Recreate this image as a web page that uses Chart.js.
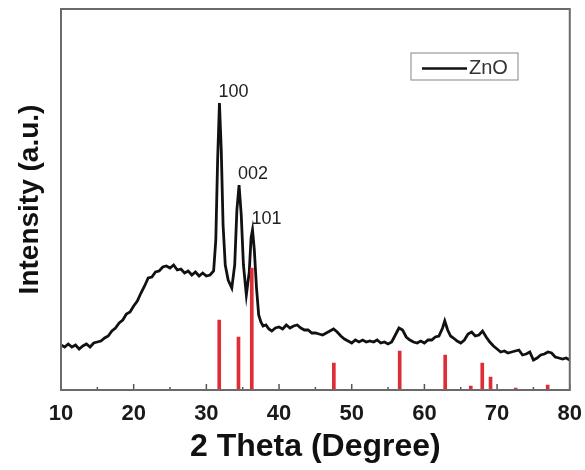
<!DOCTYPE html>
<html><head><meta charset="utf-8">
<script src="https://cdn.jsdelivr.net/npm/chart.js@4"></script>
<style>html,body{margin:0;padding:0;background:#fff}#c{display:block}</style>
</head><body>
<canvas id="c" width="585" height="470"></canvas>
<script>
const theta = [10,10.5,11,11.5,12,12.5,13,13.5,14,14.5,15,15.5,16,16.5,17,17.5,18,18.5,19,19.5,20,20.5,21,21.5,22,22.5,23,23.5,24,24.5,25,25.5,26,26.5,27,27.5,28,28.5,29,29.5,30,30.5,31,31.3,31.55,31.8,32.05,32.3,32.6,33,33.5,33.9,34.2,34.5,34.8,35.1,35.5,35.9,36.15,36.35,36.6,36.9,37.2,37.5,37.8,38.2,38.6,39,39.5,40,40.5,41,41.5,42,42.5,43,43.5,44,44.5,45,45.5,46,46.5,47,47.5,48,48.5,49,49.5,50,50.5,51,51.5,52,52.5,53,53.5,54,54.5,55,55.5,56,56.5,57,57.5,58,58.5,59,59.5,60,60.5,61,61.5,62,62.5,62.8,63.2,63.6,64,64.5,65,65.5,66,66.5,67,67.5,68,68.5,69,69.5,70,70.5,71,71.5,72,72.5,73,73.5,74,74.5,75,75.5,76,76.5,77,77.5,78,78.5,79,79.5,80];
const intensity = [45,43,46,43,45,41,44,46,43,47,48,49,52,54,59,62,67,70,76,78,84,89,97,104,112,113,118,119,123,124,122,125,120,121,117,119,115,118,114,117,114,115,119,150,230,287,240,165,125,110,102,125,180,205,175,125,95,118,152,160,140,102,75,68,64,65,61,59,62,63,61,65,62,64,65,62,60,60,57,57,56,55,57,59,61,58,54,51,49,47,50,48,50,48,49,48,50,47,48,46,48,55,62,60,53,50,48,47,49,47,50,50,53,54,62,69,60,54,52,49,47,50,56,58,54,55,59,53,48,44,41,38,39,37,38,39,40,35,36,38,30,32,35,36,38,37,33,32,31,32,30];
const refPos = [31.77,34.42,36.25,47.54,56.6,62.86,66.38,67.96,69.1,72.56,76.96];
const refInt = [70,53,122,27,39,35,4,27,13,2,5];
const peakLabels = ['100','002','101'];
const peakPos = [31.8,34.5,36.35];
const xTicks = [10,20,30,40,50,60,70,80];
const seriesName = 'ZnO';

const curve = theta.map((t,i)=>({x:t,y:intensity[i]}));
const sticks = refPos.map((t,i)=>({x:t,y:refInt[i]}));

const decor = {
  id:'decor',
  afterDatasetsDraw(chart){
    const {ctx, chartArea:a, scales:{x,y}} = chart;
    ctx.save();
    ctx.strokeStyle='#555'; ctx.lineWidth=1.5;
    for(let v=x.min; v<=x.max; v+=5){
      const px=x.getPixelForValue(v);
      const len = (v%10===0)?6:3;
      ctx.beginPath(); ctx.moveTo(px,a.bottom); ctx.lineTo(px,a.bottom-len); ctx.stroke();
    }
    ctx.strokeStyle='#6a6a6a'; ctx.lineWidth=2;
    ctx.strokeRect(a.left,a.top,a.right-a.left,a.bottom-a.top);
    ctx.fillStyle='#222'; ctx.font='18px "Liberation Sans", Arial, sans-serif';
    ctx.textAlign='left'; ctx.textBaseline='bottom';
    peakPos.forEach((p,i)=>{
      let best=0;
      theta.forEach((t,j)=>{ if(Math.abs(t-p)<0.4 && intensity[j]>best) best=intensity[j]; });
      ctx.fillText(peakLabels[i], x.getPixelForValue(p)-1, y.getPixelForValue(best)-2);
    });
    const bx=a.left+350, by=a.top+44, bw=107, bh=27;
    ctx.strokeStyle='#9a9a9a'; ctx.lineWidth=1.2;
    ctx.strokeRect(bx,by,bw,bh);
    ctx.strokeStyle='#111'; ctx.lineWidth=2.5;
    ctx.beginPath(); ctx.moveTo(bx+11,by+15.5); ctx.lineTo(bx+56,by+15.5); ctx.stroke();
    ctx.fillStyle='#333'; ctx.font='20px "Liberation Sans", Arial, sans-serif';
    ctx.textBaseline='middle';
    ctx.fillText(seriesName,bx+58,by+15);
    ctx.restore();
  }
};

new Chart(document.getElementById('c'),{
  data:{datasets:[
    {type:'bar',label:'ref',data:sticks,backgroundColor:'rgb(222,45,55)',barThickness:3,order:0},
    {type:'line',label:seriesName,data:curve,borderColor:'#111',borderWidth:2.8,pointRadius:0,tension:0,order:1}
  ]},
  options:{
    responsive:false,animation:false,
    layout:{padding:{left:0,right:11,top:9,bottom:0}},
    plugins:{legend:{display:false},tooltip:{enabled:false}},
    scales:{
      x:{type:'linear',min:10,max:80,offset:false,
        afterBuildTicks(s){s.ticks=xTicks.map(v=>({value:v}));},
        afterFit(s){s.height=80;},
        grid:{display:false,offset:false},border:{display:false},
        ticks:{padding:3,color:'#1a1a1a',font:{family:'"Liberation Sans", Arial, sans-serif',size:22,weight:'bold'},maxRotation:0},
        title:{display:true,text:'2 Theta (Degree)',color:'#111',padding:{top:0,bottom:4},font:{family:'"Liberation Sans", Arial, sans-serif',size:32,weight:'bold'}}
      },
      y:{min:0,max:381,
        afterFit(s){s.width=61;},
        grid:{display:false},border:{display:false},
        ticks:{display:false},
        title:{display:true,text:'Intensity (a.u.)',color:'#111',padding:{top:13,bottom:0},font:{family:'"Liberation Sans", Arial, sans-serif',size:28,weight:'bold'}}
      }
    }
  },
  plugins:[decor]
});
</script>
</body></html>
